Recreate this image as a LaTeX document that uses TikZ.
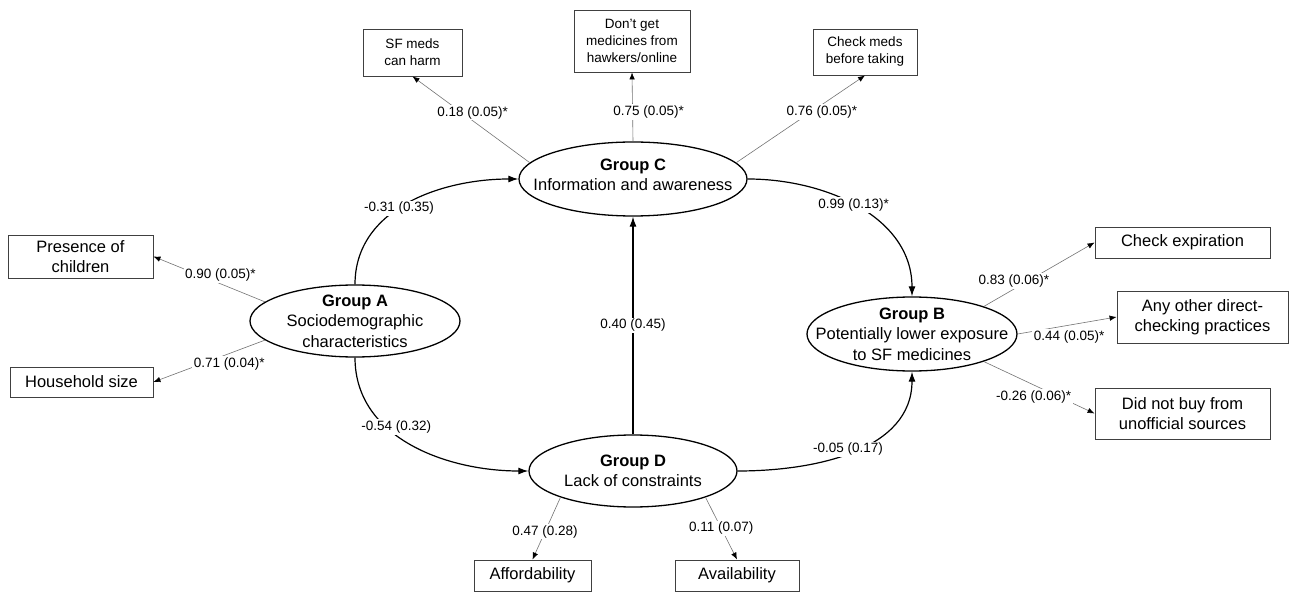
\documentclass[tikz,border=0pt]{standalone}
\usepackage{fontspec}
\setmainfont{Liberation Sans}
\usetikzlibrary{shapes,arrows.meta}

\begin{document}
\begin{tikzpicture}[x=1pt,y=-1pt,
	grp/.style={draw,ellipse,line width=1.3pt,inner sep=0pt},
	grptxt/.style={align=center,font=\fontsize{16.5}{20.5}\selectfont},
	obs/.style={draw=black!75,line width=0.9pt,inner sep=0pt,align=center,font=\fontsize{16.5}{20}\selectfont},
	obssm/.style={obs,font=\fontsize{13.5}{17}\selectfont},
	effect/.style={-{Latex[length=10pt,width=7pt]},line width=1.2pt},
	ind/.style={-{Latex[length=7pt,width=5.5pt,black]},draw=black!55,line width=0.6pt},
	lbl/.style={fill=white,inner sep=1.5pt,font=\fontsize{13.5}{16}\selectfont}]
		\useasboundingbox (0,0) rectangle (1293,596);
		\node[grp,minimum width=210pt,minimum height=72pt,label={[grptxt]center:{\textbf{Group A}\\Sociodemographic\\characteristics}}] (A) at (355,321) {};
		\node[grp,minimum width=228pt,minimum height=74pt,label={[grptxt,yshift=4pt]center:{\textbf{Group C}\\Information and awareness}}] (C) at (633,179) {};
		\node[grp,minimum width=210pt,minimum height=74pt,label={[grptxt]center:{\textbf{Group B}\\Potentially lower exposure\\to SF medicines}}] (B) at (912,334) {};
		\node[grp,minimum width=208pt,minimum height=72pt,label={[grptxt]center:{\textbf{Group D}\\Lack of constraints}}] (D) at (633,471) {};
		\node[obs,minimum width=145pt,minimum height=43pt] (pres) at (80.5,256.5) {Presence of\\children};
		\node[obs,minimum width=143pt,minimum height=30pt] (hh) at (81.5,382) {Household size};
		\node[obssm,minimum width=99pt,minimum height=47pt] (harm) at (412.5,52.5) {SF meds\\can harm};
		\node[obssm,minimum width=116pt,minimum height=62pt] (hawk) at (632,41) {Don't get\\medicines from\\hawkers/online};
		\node[obssm,minimum width=104pt,minimum height=46pt] (chk) at (865,52) {Check meds\\before taking};
		\node[obs,minimum width=175pt,minimum height=31pt] (exp) at (1182.5,242.5) {Check expiration};
		\node[obs,minimum width=171pt,minimum height=52pt] (other) at (1202.5,317) {Any other direct-\\checking practices};
		\node[obs,minimum width=175pt,minimum height=51pt] (unoff) at (1182.5,413.5) {Did not buy from\\unofficial sources};
		\node[obs,minimum width=117pt,minimum height=31pt] (aff) at (532.5,575.5) {Affordability};
		\node[obs,minimum width=124pt,minimum height=31pt] (avl) at (737,575.5) {Availability};
		\draw[effect] (A) to[out=90,in=180] node[lbl,pos=0.45] {-0.31 (0.35)} (C);
		\draw[effect] (A) to[out=-90,in=180] node[lbl,pos=0.42,yshift=8pt] {-0.54 (0.32)} (D);
		\draw[effect] (C) to[out=0,in=90] node[lbl,pos=0.47] {0.99 (0.13)*} (B);
		\draw[effect] (D) to[out=0,in=-90] node[lbl,pos=0.47,yshift=4pt] {-0.05 (0.17)} (B);
		\draw[effect] (D) -- node[lbl] {0.40 (0.45)} (C);
		\draw[ind] (A.168) -- node[lbl,pos=0.4,yshift=9pt] {0.90 (0.05)*} (pres.east);
		\draw[ind] (A.192) -- node[lbl,pos=0.32,yshift=-10pt] {0.71 (0.04)*} (hh.east);
		\draw[ind] (C.171) -- node[lbl,pos=0.58,xshift=11pt] {0.18 (0.05)*} (harm.south);
		\draw[ind] (C.north) -- node[lbl,pos=0.43,xshift=16pt] {0.75 (0.05)*} (hawk.south);
		\draw[ind] (C.9) -- node[lbl,pos=0.58,xshift=11pt] {0.76 (0.05)*} (chk.south);
		\draw[ind] (B.21) -- node[lbl,pos=0.27,yshift=8pt] {0.83 (0.06)*} (exp.west);
		\draw[ind] (B.east) -- node[lbl,pos=0.52,yshift=-12pt] {0.44 (0.05)*} (other.west);
		\draw[ind] (B.-21) -- node[lbl,pos=0.45,yshift=-12pt] {-0.26 (0.06)*} (unoff.west);
		\draw[ind] (D.200) -- node[lbl,pos=0.55] {0.47 (0.28)} (aff.north);
		\draw[ind] (D.-20) -- node[lbl,pos=0.5] {0.11 (0.07)} (avl.north);
\end{tikzpicture}
\end{document}
